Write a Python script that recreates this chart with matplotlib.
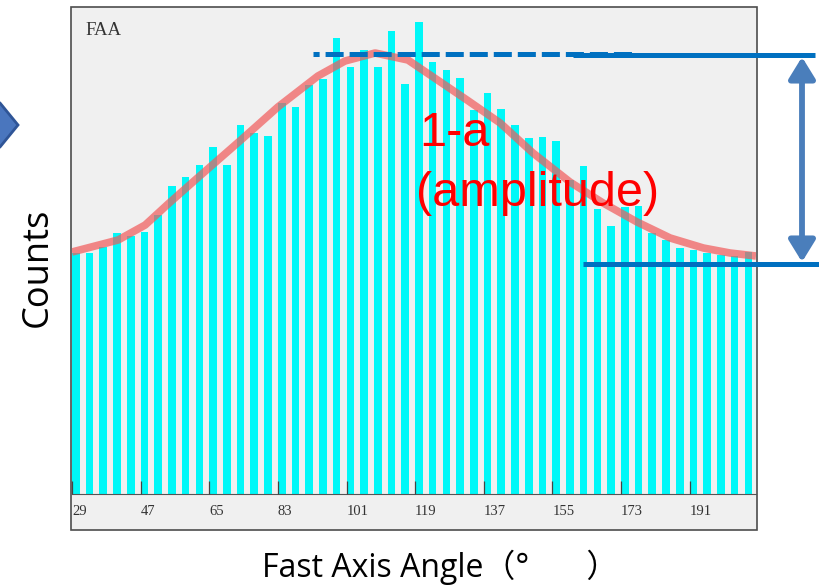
import numpy as np
import matplotlib.pyplot as plt
from matplotlib.patches import Rectangle, Polygon, FancyArrowPatch

plt.rcParams['lines.scale_dashes'] = False

# histogram of fast axis angles: 3.6 deg bins starting at 29 deg
bin_start = 29.0
bin_step = 3.6
bar_width = 2.0
counts = [241, 241, 247, 261, 258, 262, 279, 308, 317, 329,
          347, 329, 369, 361, 358, 391, 387, 409, 415, 456,
          427, 444, 427, 463, 410, 472, 432, 424, 416, 384,
          401, 385, 369, 356, 357, 353, 314, 328, 285, 268,
          287, 288, 261, 254, 246, 244, 241, 239, 238, 242]

# fitted curve
fit_angle = [29.0, 41.1, 48.2, 54.2, 61.3, 67.3, 73.3, 83.0, 93.5, 100.6,
             108.5, 117.1, 123.7, 132.6, 141.3, 149.9, 159.6, 168.3, 177.2,
             185.9, 194.6, 201.6, 208.4]
fit_counts = [242, 254, 269, 290, 314, 334, 354, 387, 418, 433,
              441, 434, 417, 394, 371, 341, 312, 291, 272,
              256, 246, 241, 238]

tick_values = [29, 47, 65, 83, 101, 119, 137, 155, 173, 191]
x_limits = (29, 208.4)
y_limits = (0, 486)

W, H = 820, 587
fig = plt.figure(figsize=(W / 100, H / 100), dpi=100)

# grey chart frame, kept behind the axes
frame = Rectangle((71 / W, 1 - 530 / H), 686 / W, 523 / H,
                  transform=fig.transFigure, facecolor='#f0f0f0',
                  edgecolor='#4d4d4d', linewidth=1.2, zorder=-10)
fig.patches.append(frame)

ax = fig.add_axes([72 / W, 1 - 494 / H, 684 / W, 486 / H])
ax.set_facecolor('none')
ax.set_axisbelow(False)

angles = bin_start + bin_step * np.arange(len(counts))
ax.bar(angles, counts, width=bar_width, align='edge', color='#00f8f8',
       zorder=2)
ax.plot(fit_angle, fit_counts, color='#f05a5a', lw=5.5, alpha=0.7,
        solid_capstyle='butt', zorder=3)

ax.set_xlim(*x_limits)
ax.set_ylim(*y_limits)
for side in ['top', 'left', 'right']:
    ax.spines[side].set_visible(False)
ax.spines['bottom'].set_color('#555555')
ax.spines['bottom'].set_linewidth(0.8)
ax.set_yticks([])
ax.set_xticks(tick_values)
ax.set_xticklabels([str(t) for t in tick_values])
ax.tick_params(axis='x', direction='in', length=9.5, width=0.9,
               color='#444444', pad=8, labelsize=10.5, labelcolor='#333333')
for lab in ax.get_xticklabels():
    lab.set_horizontalalignment('left')
    lab.set_fontfamily('Liberation Serif')

ax.text(0.019, 0.953, 'FAA', transform=ax.transAxes, ha='left', va='center',
        fontsize=13.5, family='Liberation Serif', color='#333333')

# overlay in pixel coordinates for the slide annotations
ov = fig.add_axes([0, 0, 1, 1])
ov.set_xlim(0, W)
ov.set_ylim(H, 0)
ov.axis('off')
ov.patch.set_alpha(0)

blue = '#0070c0'
ov.plot([313, 632], [53.5, 53.5], color=blue, lw=3.6, ls=(8.6, (13, 4.3)))
ov.plot([573, 815], [55, 55], color=blue, lw=3.6, solid_capstyle='butt')
ov.plot([583, 822], [264, 264], color=blue, lw=3.6, solid_capstyle='butt')

arrow = FancyArrowPatch((802, 57), (802, 262),
                        arrowstyle='<|-|>,head_length=1.3,head_width=0.8',
                        mutation_scale=10, color='#4a7ebb', lw=4.2,
                        shrinkA=0, shrinkB=0)
ov.add_patch(arrow)

chevron = Polygon([(-30, 103), (0, 103), (18, 125), (0, 147), (-30, 147)],
                  closed=True, facecolor='#4a76be', edgecolor='#2f5597',
                  lw=2, clip_on=False)
ov.add_patch(chevron)

ov.text(419, 146, '1-a', color='red', fontsize=35, family='Liberation Sans',
        ha='left', va='baseline')
ov.text(416, 206, '(amplitude)', color='red', fontsize=35,
        family='Liberation Sans', ha='left', va='baseline')

ov.text(38, 267, 'Counts', rotation=90, ha='center', va='center',
        fontsize=26, family=['Open Sans', 'DejaVu Sans'], color='black')
ov.text(262, 567, 'Fast Axis Angle（°   \u3000）', ha='left', va='center',
        fontsize=23, family=['Open Sans', 'Noto Sans CJK SC'], color='black')

fig.savefig('out.png', dpi=100)
